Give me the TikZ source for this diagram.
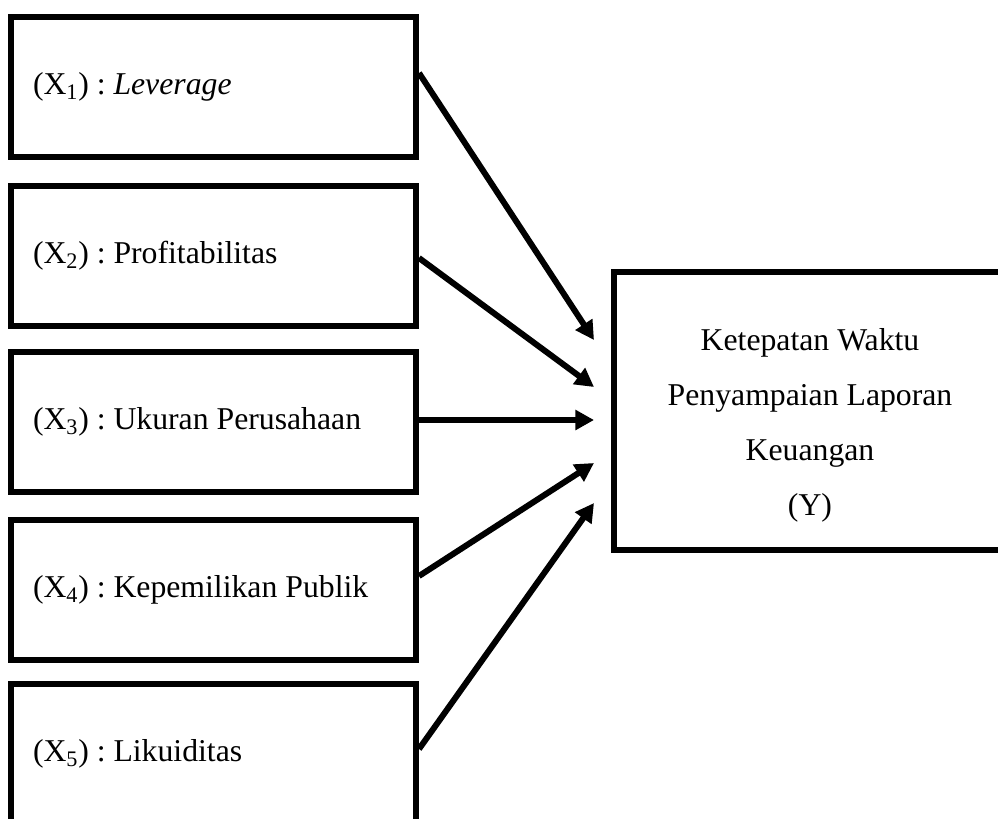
\documentclass[tikz,border=0pt]{standalone}
\usepackage{fontspec}
\setmainfont{Liberation Serif}
\usepackage{tikz}
\usetikzlibrary{arrows.meta,positioning,calc}

\begin{document}
\begin{tikzpicture}[
  x=0.75pt, y=-0.75pt,
  varbox/.style={
    draw, line width=4.5pt, rectangle,
    minimum width=303.75pt, minimum height=105pt,
    text width=270.75pt, inner xsep=16.5pt, align=flush left,
    font=\fontsize{23.8pt}{28pt}\selectfont\frenchspacing
  },
  ybox/.style={
    draw, line width=4.5pt, rectangle,
    minimum width=294pt, minimum height=209pt
  },
  arr/.style={-{Triangle[length=14pt,width=14.5pt]}, line width=4.5pt}
]
  \useasboundingbox (0,0) rectangle (998,818);
  \clip (0,0) rectangle (998,818);

  % independent variables
  \node[varbox] (x1) at (213.5, 87)  {(X\textsubscript{1}) : \textit{Leverage}};
  \node[varbox] (x2) at (213.5, 255.5) {(X\textsubscript{2}) : Profitabilitas};
  \node[varbox] (x3) at (213.5, 422) {(X\textsubscript{3}) : Ukuran Perusahaan};
  \node[varbox] (x4) at (213.5, 589.5) {(X\textsubscript{4}) : Kepemilikan Publik};
  \node[varbox] (x5) at (213.5, 754) {(X\textsubscript{5}) : Likuiditas};

  % dependent variable
  \node[ybox] (y) at (810, 411) {};
  \node[align=flush center, font=\fontsize{23.8pt}{41.25pt}\selectfont] (ylbl) at (810, 425)
    {Ketepatan Waktu\\Penyampaian Laporan\\Keuangan\\(Y)};

  \draw[arr] ($(x1.east)+(0,-14)$)   -- ($(y.west)+(-17,-71)$);
  \draw[arr] ($(x2.east)+(0,2.5)$)   -- ($(y.west)+(-17,-24)$);
  \draw[arr] ($(x3.east)+(0,-2)$)    -- ($(y.west)+(-17,9)$);
  \draw[arr] ($(x4.east)+(0,-13.5)$) -- ($(y.west)+(-17,52)$);
  \draw[arr] ($(x5.east)+(0,-5)$)    -- ($(y.west)+(-17,92)$);
\end{tikzpicture}
\end{document}
